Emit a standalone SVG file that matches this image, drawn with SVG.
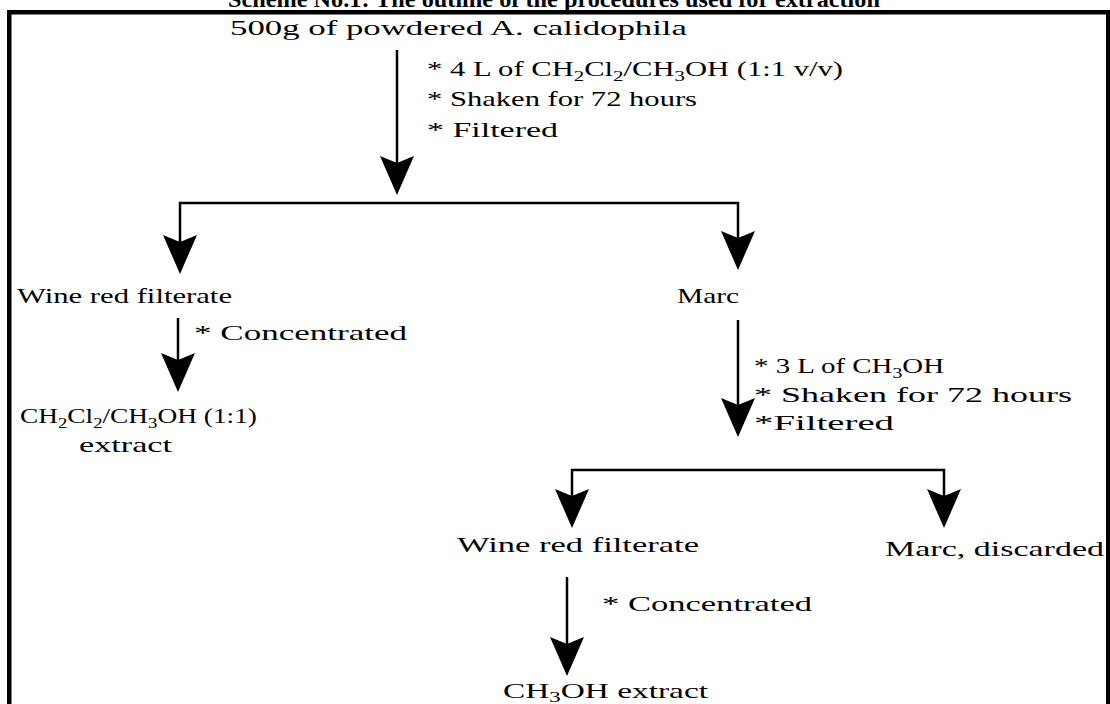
<svg xmlns="http://www.w3.org/2000/svg" xmlns:xlink="http://www.w3.org/1999/xlink" width="1110" height="704" viewBox="0 0 1110 704">
<style>
text{font-family:"Liberation Serif","Times New Roman",serif;font-size:22px;fill:#000}
.title{font-weight:bold;font-size:24px}
.sub{font-size:15px}
.ln{fill:none;stroke:#000;stroke-width:2.5}
.frame{fill:none;stroke:#000;stroke-width:4.5}
</style>
<defs>
<path id="ah" d="M0,0 L-17,-39 L0,-32 L17,-39 Z" fill="#000"/>
</defs>
<rect width="1110" height="704" fill="#fff"/>
<text class="title" x="228" y="7" textLength="652" lengthAdjust="spacingAndGlyphs">Scheme No.1: The outline of the procedures used for extraction</text>
<rect class="frame" x="9.25" y="12.25" width="1099" height="720"/>

<g id="connectors">
<path class="ln" d="M397,50 V164"/>
<use xlink:href="#ah" x="397" y="195"/>
<path class="ln" d="M180,242 V203 H738 V238"/>
<use xlink:href="#ah" x="180" y="274"/>
<use xlink:href="#ah" x="738" y="270"/>
<path class="ln" d="M178,318 V361"/>
<use xlink:href="#ah" x="178" y="392"/>
<path class="ln" d="M738,320 V406"/>
<use xlink:href="#ah" x="738" y="437"/>
<path class="ln" d="M572,497 V470 H944 V497"/>
<use xlink:href="#ah" x="572" y="528"/>
<use xlink:href="#ah" x="944" y="528"/>
<path class="ln" d="M567,577 V644"/>
<use xlink:href="#ah" x="567" y="676"/>
</g>

<g id="n-start"><text x="230" y="35" textLength="457" lengthAdjust="spacingAndGlyphs">500g of powdered A. calidophila</text></g>
<g id="step1">
<text x="427" y="76" textLength="416" lengthAdjust="spacingAndGlyphs">* 4 L of CH<tspan class="sub" dy="5">2</tspan><tspan dy="-5">Cl</tspan><tspan class="sub" dy="5">2</tspan><tspan dy="-5">/CH</tspan><tspan class="sub" dy="5">3</tspan><tspan dy="-5">OH (1:1 v/v)</tspan></text>
<text x="427" y="106" textLength="270" lengthAdjust="spacingAndGlyphs">* Shaken for 72 hours</text>
<text x="427" y="137" textLength="131" lengthAdjust="spacingAndGlyphs">* Filtered</text>
</g>
<g id="n-filtrate1"><text x="17" y="303" textLength="215" lengthAdjust="spacingAndGlyphs">Wine red filterate</text></g>
<g id="n-marc1"><text x="677" y="303" textLength="62" lengthAdjust="spacingAndGlyphs">Marc</text></g>
<g id="step2"><text x="194" y="340" textLength="213" lengthAdjust="spacingAndGlyphs">* Concentrated</text></g>
<g id="n-extract1">
<text x="20" y="423" textLength="237" lengthAdjust="spacingAndGlyphs">CH<tspan class="sub" dy="5">2</tspan><tspan dy="-5">Cl</tspan><tspan class="sub" dy="5">2</tspan><tspan dy="-5">/CH</tspan><tspan class="sub" dy="5">3</tspan><tspan dy="-5">OH (1:1)</tspan></text>
<text x="79" y="452" textLength="93" lengthAdjust="spacingAndGlyphs">extract</text>
</g>
<g id="step3">
<text x="754" y="373" textLength="190" lengthAdjust="spacingAndGlyphs">* 3 L of CH<tspan class="sub" dy="5">3</tspan><tspan dy="-5">OH</tspan></text>
<text x="754" y="402" textLength="318" lengthAdjust="spacingAndGlyphs">* Shaken for 72 hours</text>
<text x="754" y="430" textLength="140" lengthAdjust="spacingAndGlyphs">*Filtered</text>
</g>
<g id="n-filtrate2"><text x="457" y="552" textLength="242" lengthAdjust="spacingAndGlyphs">Wine red filterate</text></g>
<g id="n-marc2"><text x="885" y="556" textLength="219" lengthAdjust="spacingAndGlyphs">Marc, discarded</text></g>
<g id="step4"><text x="602" y="611" textLength="210" lengthAdjust="spacingAndGlyphs">* Concentrated</text></g>
<g id="n-extract2"><text x="503" y="698" textLength="205" lengthAdjust="spacingAndGlyphs">CH<tspan class="sub" dy="4">3</tspan><tspan dy="-4">OH extract</tspan></text></g>
</svg>
